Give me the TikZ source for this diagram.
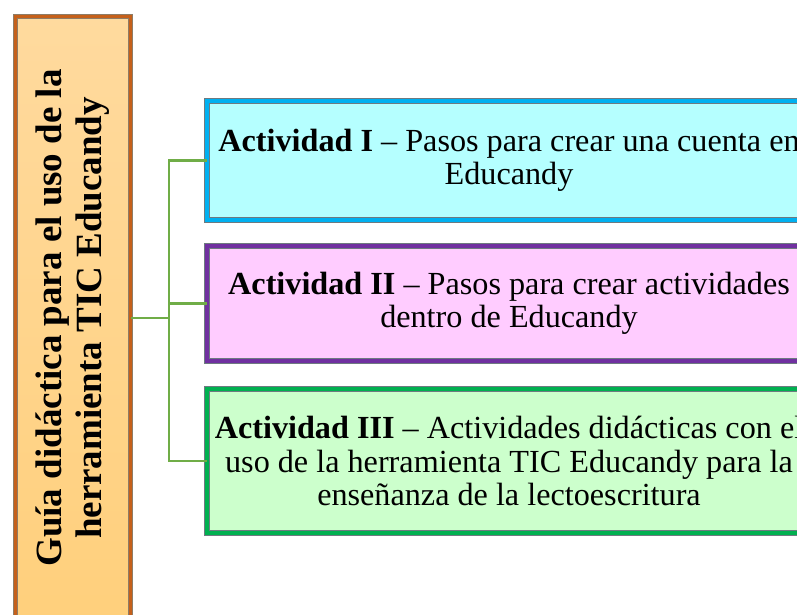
\documentclass[tikz,border=0pt]{standalone}
\usepackage{fontspec}
\setmainfont{Liberation Serif}
\begin{document}
\begin{tikzpicture}[x=1pt,y=-1pt,
  actbox/.style={draw=edgeG, line width=0.9pt, double distance=4pt,
     rectangle, inner sep=0pt, align=center, minimum width=604pt,
     font=\fontsize{32.2}{33.6}\selectfont},
  conn/.style={draw=connG, line width=2.6pt}]
\definecolor{cyanB}{HTML}{00B0F0}
\definecolor{cyanF}{HTML}{B5FFFF}
\definecolor{purB}{HTML}{7030A0}
\definecolor{pinkF}{HTML}{FFCCFF}
\definecolor{grnB}{HTML}{00B050}
\definecolor{grnF}{HTML}{CCFFCC}
\definecolor{orgB}{HTML}{C5601A}
\definecolor{connG}{HTML}{70AD47}
\definecolor{edgeG}{HTML}{6E7A80}
\useasboundingbox (0,0) rectangle (797,615);
\clip (0,0) rectangle (797,615);
% left box
\node[draw=edgeG!60!brown, line width=0.9pt, double=orgB, double distance=2.6pt,
      top color={rgb,255:red,255;green,218;blue,158}, bottom color={rgb,255:red,255;green,207;blue,122},
      rectangle, inner sep=0pt, minimum width=115pt, minimum height=640pt, anchor=north west]
      (lbox) at (15,16) {};
\node[rotate=90, align=center, font=\bfseries\fontsize{37}{40}\selectfont] (ltext) at (73,318)
  {Guía didáctica para el uso de la\\herramienta TIC Educandy};
% activity boxes
\node[actbox, double=cyanB, fill=cyanF, minimum height=119pt] (b1) at (509,160.5)
  {\textbf{Actividad I} – Pasos para crear una cuenta en\\Educandy};
\node[actbox, double=purB, fill=pinkF, minimum height=115pt] (b2) at (509,303.5)
  {\textbf{Actividad II} – Pasos para crear actividades\\dentro de Educandy};
\node[actbox, double=grnB, fill=grnF, minimum height=144pt] (b3) at (509,461)
  {\textbf{Actividad III} – Actividades didácticas con el\\uso de la herramienta TIC Educandy para la\\enseñanza de la lectoescritura};
% connectors
\coordinate (j) at (169,318);
\draw[conn] (lbox.east |- j) -- (j);
\draw[conn] (b1.west) -| (j) |- (b3.west);
\draw[conn] (j |- b2.west) -- (b2.west);
\end{tikzpicture}
\end{document}
